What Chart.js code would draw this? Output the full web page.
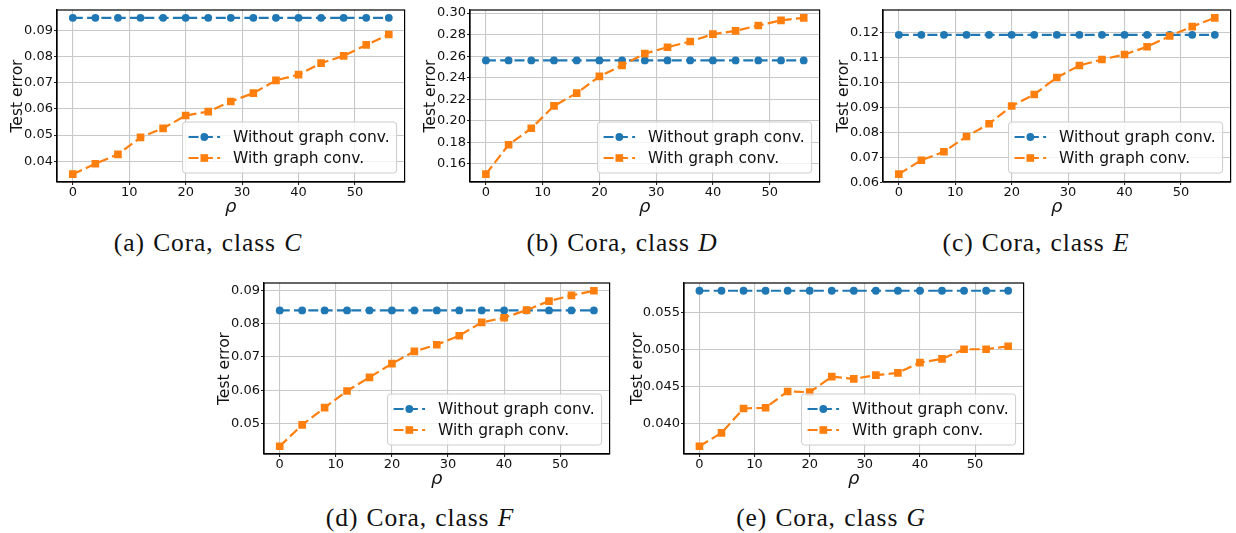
<!DOCTYPE html>
<html><head><meta charset="utf-8">
<script src="https://cdn.jsdelivr.net/npm/chart.js@4"></script>
<style>
html,body{margin:0;padding:0;background:#fff}
body{width:1236px;height:533px;position:relative;overflow:hidden}
canvas{position:absolute}
.cap{position:absolute;font-family:'Liberation Serif','DejaVu Serif',serif;font-size:25.5px;letter-spacing:0.9px;word-spacing:1px;color:#111;white-space:nowrap;transform:translate(-50%,-50%)}
</style></head><body>
<script>
// ---------- data ----------
const rho = [0, 4, 8, 12, 16, 20, 24, 28, 32, 36, 40, 44, 48, 52, 56];
const xTickLabels = ['0', '10', '20', '30', '40', '50'];
const seriesNames = ['Without graph conv.', 'With graph conv.'];
const yTitle = 'Test error';
const xTitle = 'ρ';

const withoutC = [0.095, 0.095, 0.095, 0.095, 0.095, 0.095, 0.095, 0.095, 0.095, 0.095, 0.095, 0.095, 0.095, 0.095, 0.095];
const withC    = [0.0350, 0.0390, 0.0426, 0.0491, 0.0526, 0.0575, 0.0590, 0.0629, 0.0661, 0.0710, 0.0732, 0.0776, 0.0804, 0.0846, 0.0886];
const yTicksC  = ['0.04', '0.05', '0.06', '0.07', '0.08', '0.09'];

const withoutD = [0.256, 0.256, 0.256, 0.256, 0.256, 0.256, 0.256, 0.256, 0.256, 0.256, 0.256, 0.256, 0.256, 0.256, 0.256];
const withD    = [0.1504, 0.1777, 0.1930, 0.2138, 0.2257, 0.2412, 0.2515, 0.2624, 0.2683, 0.2736, 0.2804, 0.2835, 0.2885, 0.2932, 0.2956];
const yTicksD  = ['0.16', '0.18', '0.20', '0.22', '0.24', '0.26', '0.28', '0.30'];

const withoutE = [0.119, 0.119, 0.119, 0.119, 0.119, 0.119, 0.119, 0.119, 0.119, 0.119, 0.119, 0.119, 0.119, 0.119, 0.119];
const withE    = [0.0632, 0.0688, 0.0722, 0.0783, 0.0834, 0.0905, 0.0951, 0.1019, 0.1067, 0.1091, 0.1111, 0.1142, 0.1185, 0.1223, 0.1258];
const yTicksE  = ['0.06', '0.07', '0.08', '0.09', '0.10', '0.11', '0.12'];

const withoutF = [0.084, 0.084, 0.084, 0.084, 0.084, 0.084, 0.084, 0.084, 0.084, 0.084, 0.084, 0.084, 0.084, 0.084, 0.084];
const withF    = [0.0432, 0.0496, 0.0548, 0.0598, 0.0639, 0.0680, 0.0717, 0.0737, 0.0764, 0.0804, 0.0818, 0.0841, 0.0868, 0.0885, 0.0899];
const yTicksF  = ['0.05', '0.06', '0.07', '0.08', '0.09'];

const withoutG = [0.058, 0.058, 0.058, 0.058, 0.058, 0.058, 0.058, 0.058, 0.058, 0.058, 0.058, 0.058, 0.058, 0.058, 0.058];
const withG    = [0.0370, 0.0388, 0.0421, 0.0422, 0.0444, 0.0443, 0.0464, 0.0461, 0.0466, 0.0469, 0.0483, 0.0488, 0.0501, 0.0501, 0.0505];
const yTicksG  = ['0.040', '0.045', '0.050', '0.055'];

const captionTags = ['(a)', '(b)', '(c)', '(d)', '(e)'];
const captionClasses = ['C', 'D', 'E', 'F', 'G'];

// ---------- layout (positions only) ----------
const panels = [
  {wo: withoutC, wi: withC, yt: yTicksC, plot: [57, 10, 409, 182], W: 57, cap: [208, 243]},
  {wo: withoutD, wi: withD, yt: yTicksD, plot: [470, 10, 824, 182], W: 57, cap: [622, 243]},
  {wo: withoutE, wi: withE, yt: yTicksE, plot: [883, 10, 1235, 182], W: 57, cap: [1036, 243]},
  {wo: withoutF, wi: withF, yt: yTicksF, plot: [264, 283, 614, 454], W: 57, cap: [420, 518]},
  {wo: withoutG, wi: withG, yt: yTicksG, plot: [684, 283, 1028, 454], W: 64, cap: [831, 518]},
];
const T = 10, R = 1, B = 42;
const BLUE = '#1f77b4', ORANGE = '#ff7f0e';

Chart.defaults.font.family = '"DejaVu Sans", sans-serif';

function drawMarker(ctx, style, x, y, r, color) {
  ctx.fillStyle = color;
  ctx.beginPath();
  if (style === 'circle') { ctx.arc(x, y, r, 0, Math.PI * 2); ctx.fill(); }
  else { const s = r * Math.SQRT1_2; ctx.fillRect(x - s, y - s, 2 * s, 2 * s); }
}

const boxPlugin = {
  id: 'boxLegend',
  afterDatasetsDraw(chart) {
    const {ctx, chartArea: a} = chart;
    ctx.save();
    const fs = 15.5;
    ctx.font = fs + 'px "DejaVu Sans"';
    const tw = Math.max(...seriesNames.map(s => ctx.measureText(s).width));
    const pad = 6, hl = 31.5, gap = 13, h = 51;
    const w = pad + hl + gap + tw + pad + 1;
    const right = a.right - 8, bottom = a.bottom - 9;
    const left = right - w, top = bottom - h;
    ctx.beginPath();
    if (ctx.roundRect) ctx.roundRect(left, top, w, h, 3); else ctx.rect(left, top, w, h);
    ctx.fillStyle = 'rgba(255,255,255,0.8)';
    ctx.fill();
    ctx.strokeStyle = '#cccccc';
    ctx.lineWidth = 1;
    ctx.stroke();
    chart.data.datasets.forEach((ds, i) => {
      const y = top + 15 + i * 21;
      ctx.setLineDash(ds.borderDash);
      ctx.strokeStyle = ds.borderColor;
      ctx.lineWidth = ds.borderWidth;
      ctx.beginPath();
      ctx.moveTo(left + pad, y);
      ctx.lineTo(left + pad + hl, y);
      ctx.stroke();
      ctx.setLineDash([]);
      drawMarker(ctx, ds.pointStyle, left + pad + hl / 2, y, ds.pointRadius, ds.borderColor);
      ctx.fillStyle = '#111';
      ctx.textBaseline = 'middle';
      ctx.textAlign = 'left';
      ctx.fillText(ds.label, left + pad + hl + gap, y + 1);
    });
    ctx.restore();
  },
  afterDraw(chart) {
    const {ctx, chartArea: a} = chart;
    ctx.save();
    ctx.strokeStyle = '#000';
    ctx.lineWidth = 1.2;
    ctx.strokeRect(a.left, a.top, a.right - a.left, a.bottom - a.top);
    ctx.restore();
  }
};

panels.forEach((p, k) => {
  const [pl, pt, pr, pb] = p.plot;
  const cv = document.createElement('canvas');
  const cw = p.W + (pr - pl) + R, ch = T + (pb - pt) + B;
  cv.width = cw; cv.height = ch;
  cv.style.left = (pl - p.W) + 'px';
  cv.style.top = (pt - T) + 'px';
  cv.style.width = cw + 'px'; cv.style.height = ch + 'px';
  document.body.appendChild(cv);

  const all = p.wo.concat(p.wi);
  const lo = Math.min(...all), hi = Math.max(...all), m = 0.05 * (hi - lo);
  const xlo = Math.min(...rho), xhi = Math.max(...rho), xm = 0.05 * (xhi - xlo);
  const yVals = p.yt.map(Number);
  const xVals = xTickLabels.map(Number);

  const mk = (label, vals, color, style, r, order) => ({
    label, order,
    data: rho.map((x, i) => ({x, y: vals[i]})),
    borderColor: color, backgroundColor: color,
    borderWidth: 2.2, borderDash: [10, 4.3],
    pointStyle: style, pointRadius: r, pointHoverRadius: r,
    pointBorderWidth: 0, pointBackgroundColor: color,
    tension: 0, fill: false
  });

  new Chart(cv, {
    type: 'line',
    data: {datasets: [
      mk(seriesNames[0], p.wo, BLUE, 'circle', 3.9, 1),
      mk(seriesNames[1], p.wi, ORANGE, 'rect', 5.4, 0)
    ]},
    options: {
      responsive: false, animation: false, devicePixelRatio: 1,
      layout: {padding: {top: T, right: R, left: 0, bottom: 0}},
      plugins: {legend: {display: false}, tooltip: {enabled: false}},
      scales: {
        x: {
          type: 'linear', bounds: 'data', min: xlo - xm, max: xhi + xm,
          afterBuildTicks: s => { s.ticks = xVals.map(v => ({value: v})); },
          afterFit: s => { s.height = B; },
          ticks: {callback: (v, i) => xTickLabels[i], color: '#111', font: {size: 13}, padding: 0, maxRotation: 0, autoSkip: false},
          grid: {color: '#c8c8c8', lineWidth: 1.1, tickColor: '#222', tickLength: 3},
          border: {display: true, color: '#000', width: 1.2},
          title: {display: true, text: xTitle, color: '#111', font: {size: 18, style: 'italic'}, padding: {top: 0, bottom: 6}}
        },
        y: {
          type: 'linear', bounds: 'data', min: lo - m, max: hi + m,
          afterBuildTicks: s => { s.ticks = yVals.map(v => ({value: v})); },
          afterFit: s => { s.width = p.W; },
          ticks: {callback: (v, i) => p.yt[i], color: '#111', font: {size: 13}, padding: 1},
          grid: {color: '#c8c8c8', lineWidth: 1.1, tickColor: '#222', tickLength: 3},
          border: {display: true, color: '#000', width: 1.2},
          title: {display: true, text: yTitle, color: '#111', font: {size: 15.5}, padding: {top: 9, bottom: 0}}
        }
      }
    },
    plugins: [boxPlugin]
  });

  const cap = document.createElement('div');
  cap.className = 'cap';
  cap.style.left = p.cap[0] + 'px';
  cap.style.top = p.cap[1] + 'px';
  cap.innerHTML = captionTags[k] + ' Cora, class <i>' + captionClasses[k] + '</i>';
  document.body.appendChild(cap);
});
</script>
</body></html>
